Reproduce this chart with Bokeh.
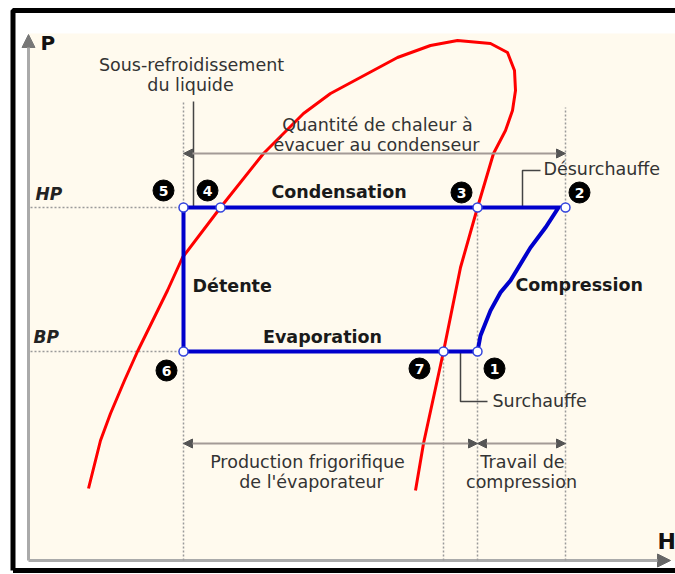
from bokeh.plotting import figure
from bokeh.models import Range1d, Arrow, NormalHead, ColumnDataSource
from bokeh.embed import file_html
from bokeh.resources import INLINE
from bokeh.core.properties import value

# ---------------- data (schematic enthalpy H / pressure P units) ----------------
state_names = ["1", "2", "3", "4", "5", "6", "7"]
state_h = [449, 537, 449, 192, 155, 155, 415]
state_p = [209, 353, 353, 353, 353, 209, 209]
HP = 353
BP = 209

# saturation dome (liquid branch -> top -> vapour branch)
dome_h = [60, 72, 82, 96, 109, 139, 154, 192, 235, 275, 302, 369, 402, 429, 462, 479,
          486, 487, 484, 477, 465, 449, 432, 415, 395, 387]
dome_p = [72, 120, 147, 180, 209, 270, 303, 353, 407, 447, 467, 503, 515, 520, 517, 508,
          490, 470, 450, 430, 407, 353, 293, 209, 117, 70]

# compression 1 -> 2
comp_h = [449, 452, 462, 472, 482, 502, 517, 530]
comp_p = [209, 225, 250, 268, 280, 313, 333, 353]

# ---------------- layout helpers (pixel-like offsets) ----------------
badge_dx = [17, 14, -16, -13, -20, -17, -24]
badge_dy = [-17, 15, 15, 17, 17, -19, -17]
TY = 7  # vertical text adjustment

FONT = value("DejaVu Sans")

p = figure(width=675, height=574, x_range=Range1d(-28, 647), y_range=Range1d(-14, 560),
           output_backend="svg", toolbar_location=None, min_border=0)
p.axis.visible = False
p.grid.visible = False
p.outline_line_color = None
p.background_fill_color = "white"
p.border_fill_color = "white"

# cream plotting area
p.quad(left=[0], right=[700], bottom=[0], top=[527], fill_color="#FFFAEE", line_color=None)

# axes
p.line([0, 0], [0, 517], line_color="#AAAAAA", line_width=3)
p.line([0, 634], [0, 0], line_color="#AAAAAA", line_width=3)
p.add_layout(Arrow(end=NormalHead(size=13, fill_color="#777777", line_color="#777777"),
                   x_start=0, y_start=505, x_end=0, y_end=526,
                   line_color="#AAAAAA", line_width=3))
p.add_layout(Arrow(end=NormalHead(size=13, fill_color="#666666", line_color="#666666"),
                   x_start=620, y_start=0, x_end=642, y_end=0,
                   line_color="#AAAAAA", line_width=3))

dot = dict(line_color="#9A9A9A", line_width=1.5, line_dash="2 2")
# vertical dotted guides
p.line([state_h[4], state_h[4]], [0, 460], **dot)
p.line([state_h[6], state_h[6]], [0, BP], **dot)
p.line([state_h[2], state_h[2]], [0, HP], **dot)
p.line([state_h[1], state_h[1]], [0, 453], **dot)
# horizontal dotted guides
p.line([2, state_h[4]], [HP, HP], **dot)
p.line([2, state_h[4]], [BP, BP], **dot)

# leader / bracket lines
lead = dict(line_color="#444444", line_width=1.5)
p.line([165, 165], [HP, 459], **lead)
p.line([512, 494, 494], [390, 390, HP], **lead)
p.line([432, 432, 459], [BP, 159, 159], **lead)

# dimension arrows
def dim(x0, x1, y):
    p.add_layout(Arrow(start=NormalHead(size=9, fill_color="#555555", line_color="#555555"),
                       end=NormalHead(size=9, fill_color="#555555", line_color="#555555"),
                       x_start=x0, y_start=y, x_end=x1, y_end=y,
                       line_color="#A39A96", line_width=2))

dim(state_h[4], state_h[1], 407)
dim(state_h[4], state_h[0], 117)
dim(state_h[0], state_h[1], 117)

# saturation dome
p.line(dome_h, dome_p, line_color="#FF0000", line_width=3, line_join="round")

# refrigeration cycle
cyc_h = comp_h + [state_h[4], state_h[5], state_h[0]]
cyc_p = comp_p + [HP, BP, BP]
p.line(cyc_h, cyc_p, line_color="#0000CC", line_width=4, line_join="miter")

p.scatter(state_h, state_p, size=9, fill_color="white", line_color="#3344DD", line_width=1.5)

# number badges
bx = [h + d for h, d in zip(state_h, badge_dx)]
by = [v + d for v, d in zip(state_p, badge_dy)]
p.scatter(bx, by, size=21, fill_color="black", line_color="black")
p.text(bx, by, text=state_names, text_color="white", text_font=FONT, text_font_style="bold",
       text_font_size="14px", text_align="center", text_baseline="middle")

# regular texts
reg = ColumnDataSource(dict(
    x=[163, 162, 349, 348, 279, 283, 494, 493],
    y=[v + TY for v in [489, 469, 429, 409, 92, 72, 92, 72]],
    t=["Sous-refroidissement", "du liquide", "Quantité de chaleur à", "évacuer au condenseur",
       "Production frigorifique", "de l'évaporateur", "Travail de", "compression"]))
p.text("x", "y", text="t", source=reg, text_color="#333333", text_font=FONT,
       text_font_size="17.5px", text_align="center", text_baseline="alphabetic")
p.text([515, 464], [385 + TY, 153 + TY], text=["Désurchauffe", "Surchauffe"],
       text_color="#333333", text_font=FONT, text_font_size="17.5px", text_align="left",
       text_baseline="alphabetic")

# bold process labels
p.text([310.5, 294], [362 + TY, 217 + TY], text=["Condensation", "Evaporation"],
       text_color="#1A1A1A", text_font=FONT, text_font_style="bold",
       text_font_size="17.5px", text_align="center", text_baseline="alphabetic")
p.text([164, 487], [268 + TY, 269 + TY], text=["Détente", "Compression"],
       text_color="#1A1A1A", text_font=FONT, text_font_style="bold",
       text_font_size="17.5px", text_align="left", text_baseline="alphabetic")

# pressure level labels
p.text([7, 5], [360 + TY, 217 + TY], text=["HP", "BP"], text_color="#222222", text_font=FONT,
       text_font_style="bold italic", text_font_size="17px", text_align="left",
       text_baseline="alphabetic")

# axis titles
p.text([12], [511 + TY], text=["P"], text_color="#111111", text_font=FONT,
       text_font_style="bold", text_font_size="20px", text_align="left",
       text_baseline="alphabetic")
p.text([629], [12 + TY], text=["H"], text_color="#111111", text_font=FONT,
       text_font_style="bold", text_font_size="22px", text_align="left",
       text_baseline="alphabetic")

# outer black frame
p.line([-15.5, -15.5, 700, 700, -15.5], [-10, 550, 550, -10, -10], line_color="black",
       line_width=5)

open("out.html", "w").write(file_html(p, INLINE))
